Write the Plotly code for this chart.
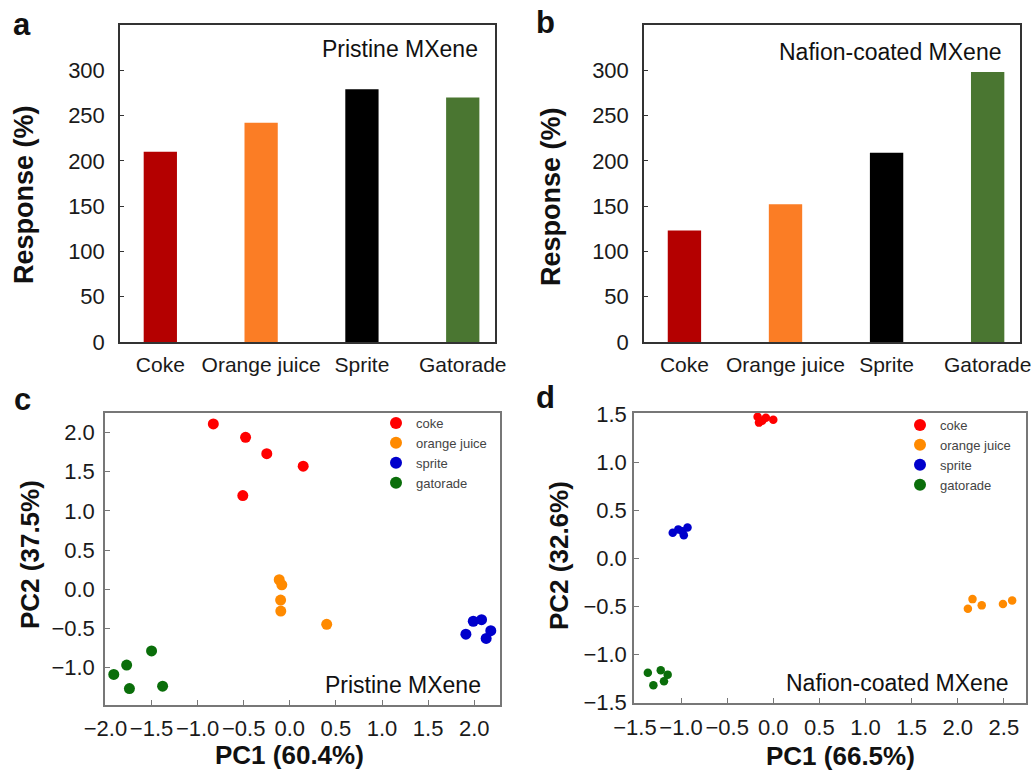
import plotly.graph_objects as go

# ---------------- data ----------------
categories = ["Coke", "Orange juice", "Sprite", "Gatorade"]
pristine_response = [210, 242, 279, 270]
nafion_response = [123, 152, 209, 298]
bar_colors = ["#B40000", "#FB7D25", "#000000", "#4A7631"]
bar_yticks = [0, 50, 100, 150, 200, 250, 300]

groups = ["coke", "orange juice", "sprite", "gatorade"]
group_colors = ["#FF0000", "#FF8A00", "#0000CC", "#0A6E0A"]

# PCA - pristine MXene
c_coke_pc1 = [-0.83, -0.48, -0.25, 0.145, -0.51]
c_coke_pc2 = [2.11, 1.94, 1.73, 1.57, 1.195]
c_oj_pc1 = [-0.115, -0.087, -0.10, -0.098, 0.40]
c_oj_pc2 = [0.12, 0.055, -0.14, -0.28, -0.45]
c_sprite_pc1 = [1.91, 1.99, 2.08, 2.18, 2.13]
c_sprite_pc2 = [-0.575, -0.41, -0.39, -0.53, -0.63]
c_gat_pc1 = [-1.91, -1.77, -1.74, -1.50, -1.38]
c_gat_pc2 = [-1.09, -0.97, -1.27, -0.79, -1.24]

# PCA - Nafion-coated MXene
d_coke_pc1 = [-0.17, -0.155, -0.08, 0.0, -0.12]
d_coke_pc2 = [1.47, 1.41, 1.46, 1.44, 1.43]
d_oj_pc1 = [2.11, 2.16, 2.26, 2.49, 2.59]
d_oj_pc2 = [-0.525, -0.425, -0.49, -0.475, -0.44]
d_sprite_pc1 = [-1.09, -1.03, -0.985, -0.97, -0.93]
d_sprite_pc2 = [0.265, 0.30, 0.28, 0.24, 0.32]
d_gat_pc1 = [-1.36, -1.30, -1.22, -1.185, -1.145]
d_gat_pc2 = [-1.19, -1.32, -1.165, -1.28, -1.21]

c_xticks = [-2.0, -1.5, -1.0, -0.5, 0.0, 0.5, 1.0, 1.5, 2.0]
c_yticks = [-1.0, -0.5, 0.0, 0.5, 1.0, 1.5, 2.0]
d_xticks = [-1.5, -1.0, -0.5, 0.0, 0.5, 1.0, 1.5, 2.0, 2.5]
d_yticks = [-1.5, -1.0, -0.5, 0.0, 0.5, 1.0, 1.5]

# ---------------- layout helpers ----------------
W, H = 1033, 770
FONT = "Arial, Liberation Sans, sans-serif"
TICK_COLOR = "#1a1a1a"


def dx(a, b):
    return [a / W, b / W]


def dy(top, bottom):
    return [1 - bottom / H, 1 - top / H]


fig = go.Figure()

fig.add_trace(go.Bar(x=categories, y=pristine_response, marker_color=bar_colors,
                     marker_line_width=0, width=0.33, xaxis="x", yaxis="y",
                     showlegend=False))
fig.add_trace(go.Bar(x=categories, y=nafion_response, marker_color=bar_colors,
                     marker_line_width=0, width=0.33, xaxis="x2", yaxis="y2",
                     showlegend=False))

c_data = [(c_coke_pc1, c_coke_pc2), (c_oj_pc1, c_oj_pc2),
          (c_sprite_pc1, c_sprite_pc2), (c_gat_pc1, c_gat_pc2)]
d_data = [(d_coke_pc1, d_coke_pc2), (d_oj_pc1, d_oj_pc2),
          (d_sprite_pc1, d_sprite_pc2), (d_gat_pc1, d_gat_pc2)]

for (xs, ys), name, col in zip(c_data, groups, group_colors):
    fig.add_trace(go.Scatter(x=xs, y=ys, mode="markers", name=name,
                             marker=dict(color=col, size=11, line_width=0),
                             xaxis="x3", yaxis="y3", legend="legend"))
for (xs, ys), name, col in zip(d_data, groups, group_colors):
    fig.add_trace(go.Scatter(x=xs, y=ys, mode="markers", name=name,
                             marker=dict(color=col, size=8.5, line_width=0),
                             xaxis="x4", yaxis="y4", legend="legend2"))

bar_x = dict(showline=True, mirror=True, linecolor="#333", linewidth=1.5,
             ticks="", showgrid=False, zeroline=False, range=[-0.4, 3.32],
             tickfont=dict(size=21, color=TICK_COLOR, family=FONT),
             ticklabelstandoff=3, automargin=False)
bar_y = dict(showline=True, mirror=True, linecolor="#333", linewidth=1.5,
             ticks="inside", ticklen=4, tickcolor="#333", tickwidth=1.2,
             showgrid=False, zeroline=False, range=[0, 350], automargin=False,
             ticklabelstandoff=9,
             tickvals=bar_yticks, tickfont=dict(size=22, color=TICK_COLOR, family=FONT))
sc_ax = dict(showline=True, mirror=True, linecolor="#777", linewidth=1.5,
             ticks="inside", ticklen=5, tickcolor="#777", tickwidth=1.2,
             showgrid=False, zeroline=False, automargin=False,
             tickfont=dict(size=22, color=TICK_COLOR, family=FONT))

fig.update_layout(
    template="none",
    width=W, height=H, margin=dict(l=0, r=0, t=0, b=0, pad=0), autosize=False,
    paper_bgcolor="white", plot_bgcolor="white",
    font=dict(family=FONT, color="#111"),
    bargap=0.5,
    xaxis=dict(**bar_x, domain=dx(120, 495), anchor="y"),
    yaxis=dict(**bar_y, domain=dy(25, 342), anchor="x"),
    xaxis2=dict(**bar_x, domain=dx(644, 1020), anchor="y2"),
    yaxis2=dict(**bar_y, domain=dy(25, 342), anchor="x2"),
    xaxis3=dict(**sc_ax, domain=dx(105, 500), anchor="y3", range=[-2.005, 2.28],
                tickvals=c_xticks, tickformat=".1f", ticklabelstandoff=3),
    yaxis3=dict(**sc_ax, domain=dy(413, 705), anchor="x3", range=[-1.48, 2.25],
                tickvals=c_yticks, tickformat=".1f", ticklabelstandoff=4),
    xaxis4=dict(**sc_ax, domain=dx(634, 1026), anchor="y4", range=[-1.51, 2.74],
                tickvals=d_xticks, tickformat=".1f", ticklabelstandoff=4),
    yaxis4=dict(**sc_ax, domain=dy(413, 703), anchor="x4", range=[-1.505, 1.51],
                tickvals=d_yticks, tickformat=".1f", ticklabelstandoff=1),
    legend=dict(x=376 / W, y=1 - 408 / H, xanchor="left", yanchor="top",
                bgcolor="rgba(0,0,0,0)", font=dict(size=13, color="#444", family=FONT),
                tracegroupgap=0, itemsizing="constant"),
    legend2=dict(x=900 / W, y=1 - 410 / H, xanchor="left", yanchor="top",
                 bgcolor="rgba(0,0,0,0)", font=dict(size=13, color="#444", family=FONT),
                 tracegroupgap=0, itemsizing="constant"),
)


def ann(text, x, y, size, bold=False, angle=0, xanchor="center", color="#111"):
    fig.add_annotation(text=f"<b>{text}</b>" if bold else text,
                       x=x / W, y=1 - y / H, xref="paper", yref="paper",
                       showarrow=False, textangle=angle, xanchor=xanchor,
                       yanchor="middle", font=dict(size=size, color=color, family=FONT))


# panel letters
ann("a", 22, 25, 31, bold=True)
ann("b", 545, 22, 31, bold=True)
ann("c", 22, 400, 31, bold=True)
ann("d", 545, 398, 31, bold=True)

# inner labels
ann("Pristine MXene", 480, 49, 23, xanchor="right")
ann("Nafion-coated MXene", 1003, 52, 23, xanchor="right")
ann("Pristine MXene", 483, 685, 23, xanchor="right")
ann("Nafion-coated MXene", 1010, 683, 23, xanchor="right")

# axis titles
ann("Response (%)", 24, 195, 27, bold=True, angle=-90)
ann("Response (%)", 551, 197, 27, bold=True, angle=-90)
ann("PC2 (37.5%)", 30, 555, 26, bold=True, angle=-90)
ann("PC2 (32.6%)", 559, 556, 26, bold=True, angle=-90)
ann("PC1 (60.4%)", 289, 755, 26, bold=True)
ann("PC1 (66.5%)", 840, 756, 26, bold=True)

fig.write_html("out.html")
